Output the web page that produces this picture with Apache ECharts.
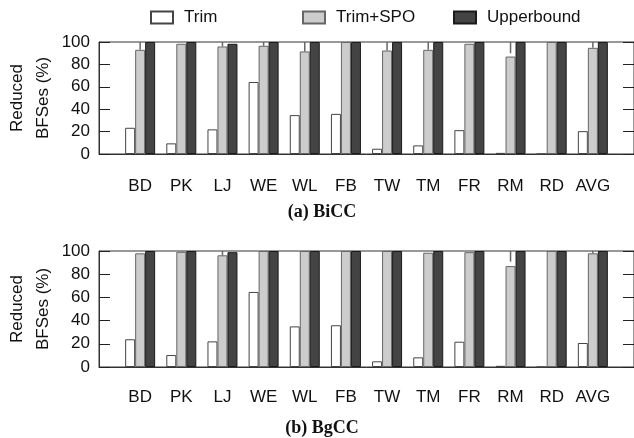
<!DOCTYPE html>
<html>
<head>
<meta charset="utf-8">
<script src="https://cdn.jsdelivr.net/npm/echarts@6/dist/echarts.min.js"></script>
<style>html,body{margin:0;padding:0;background:#fff;}#c{width:634px;height:438px;}</style>
</head>
<body>
<div id="c"></div>
<script>
const categories = ['BD','PK','LJ','WE','WL','FB','TW','TM','FR','RM','RD','AVG'];
const seriesNames = ['Trim','Trim+SPO','Upperbound'];
const yTicks = [0,20,40,60,80,100];

// (a) BiCC
const biccTrim  = [23.4, 9.5, 22, 64.3, 34.7, 35.8, 4.7, 7.7, 21.3, 1, 0, 20.4];
const biccSpo   = [93, 98.4, 96, 96.6, 91.6, 100, 92.4, 93, 98.4, 87, 100, 94.8];
const biccUpper = [100, 100, 98.4, 100, 100, 100, 100, 100, 100, 100, 100, 100];
const biccWhiskerLow  = [93, null, 96, 96.6, 91.6, null, 92.4, 93, null, 90, null, 94.8];
const biccWhiskerHigh = [100, null, 100, 100, 100, null, 100, 100, null, 100, null, 100];

// (b) BgCC
const bgccTrim  = [23.9, 10.3, 22.1, 64.7, 35, 36, 4.9, 8.3, 21.8, 1, 0, 20.7];
const bgccSpo   = [98, 99.3, 96.3, 100, 100, 100, 100, 98.5, 99, 87, 100, 98];
const bgccUpper = [100, 100, 99, 100, 100, 100, 100, 100, 100, 100, 100, 100];
const bgccWhiskerLow  = [null, null, 96.3, null, null, null, null, null, null, 90.8, null, 98];
const bgccWhiskerHigh = [null, null, 100, null, null, null, null, null, null, 100, null, 100];

const subTitles = ['(a) BiCC', '(b) BgCC'];

const FONT = 'Liberation Sans';
const axisCats = [''].concat(categories, ['']);
const pad = arr => [null].concat(arr, [null]);

const styles = [
  {color:'#ffffff', borderColor:'#444', borderWidth:1},
  {color:'#cccccc', borderColor:'#666', borderWidth:1},
  {color:'#444444', borderColor:'#1a1a1a', borderWidth:1}
];

const grids = [
  {left:99, right:0, top:42, height:112, show:true, borderColor:'#333', borderWidth:1, containLabel:false, outerBoundsMode:'none'},
  {left:99, right:0, top:251, height:116, show:true, borderColor:'#333', borderWidth:1, containLabel:false, outerBoundsMode:'none'}
];
const labelMargins = [24, 22];

const xAxes = [], yAxes = [], series = [];
[0,1].forEach(g => {
  xAxes.push({
    type:'category', gridIndex:g, data:axisCats, boundaryGap:false,
    axisLine:{show:true, lineStyle:{color:'#333', width:1}},
    axisTick:{show:false},
    axisLabel:{fontFamily:FONT, fontSize:17, color:'#111', margin:labelMargins[g], interval:0},
    splitLine:{show:false}
  });
  yAxes.push({
    type:'value', gridIndex:g, min:0, max:100, interval:20, position:'left',
    name:'Reduced\nBFSes (%)', nameLocation:'middle', nameGap:43, nameMoveOverlap:false,
    nameTextStyle:{fontFamily:FONT, fontSize:17, color:'#111', lineHeight:26},
    axisLine:{show:true, lineStyle:{color:'#333', width:1}},
    axisTick:{show:true, inside:true, length:11, lineStyle:{color:'#222'}},
    axisLabel:{fontFamily:FONT, fontSize:17, color:'#111', margin:9},
    splitLine:{show:false}
  });
  yAxes.push({
    type:'value', gridIndex:g, min:0, max:100, interval:20, position:'right',
    axisLine:{show:true, lineStyle:{color:'#333', width:1}},
    axisTick:{show:true, inside:true, length:11, lineStyle:{color:'#222'}},
    axisLabel:{show:false},
    splitLine:{show:false}
  });
});

const dataSets = [
  [biccTrim, biccSpo, biccUpper, biccWhiskerLow, biccWhiskerHigh],
  [bgccTrim, bgccSpo, bgccUpper, bgccWhiskerLow, bgccWhiskerHigh]
];
dataSets.forEach((ds, g) => {
  for (let s = 0; s < 3; s++) {
    series.push({
      type:'bar', name:seriesNames[s], xAxisIndex:g, yAxisIndex:g*2,
      data:pad(ds[s]), barWidth:10, barGap:'0%',
      itemStyle:styles[s], silent:true
    });
  }
  const wd = [];
  ds[3].forEach((lo, i) => { if (lo != null) wd.push([i+1, lo, ds[4][i]]); });
  series.push({
    type:'custom', xAxisIndex:g, yAxisIndex:g*2, data:wd, silent:true, z:5,
    encode:{x:0, y:[1,2]},
    renderItem:(params, api) => {
      const p1 = api.coord([api.value(0), api.value(1)]);
      const p2 = api.coord([api.value(0), api.value(2)]);
      return {type:'line', shape:{x1:p1[0], y1:p1[1], x2:p2[0], y2:p2[1]},
              style:{stroke:'#666', lineWidth:1.5}};
    }
  });
});

const legendLefts = [150, 302, 453];
const legends = seriesNames.map((n, i) => ({
  data:[{name:n, icon:'rect'}], left:legendLefts[i], top:9, padding:0,
  itemWidth:22, itemHeight:12, itemGap:0,
  textStyle:{fontFamily:FONT, fontSize:17, color:'#111', padding:[0,0,0,6]},
  selectedMode:false
}));

const titles = subTitles.map((t, i) => ({
  text:t, left:322, top:i === 0 ? 203 : 419, textAlign:'center', padding:0,
  textStyle:{fontFamily:'Liberation Serif', fontWeight:'bold', fontSize:18, color:'#111'}
}));

const chart = echarts.init(document.getElementById('c'), null, {renderer:'canvas'});
chart.setOption({
  animation:false,
  backgroundColor:'#fff',
  title:titles,
  legend:legends,
  grid:grids,
  xAxis:xAxes,
  yAxis:yAxes,
  series:series
});
</script>
</body>
</html>
